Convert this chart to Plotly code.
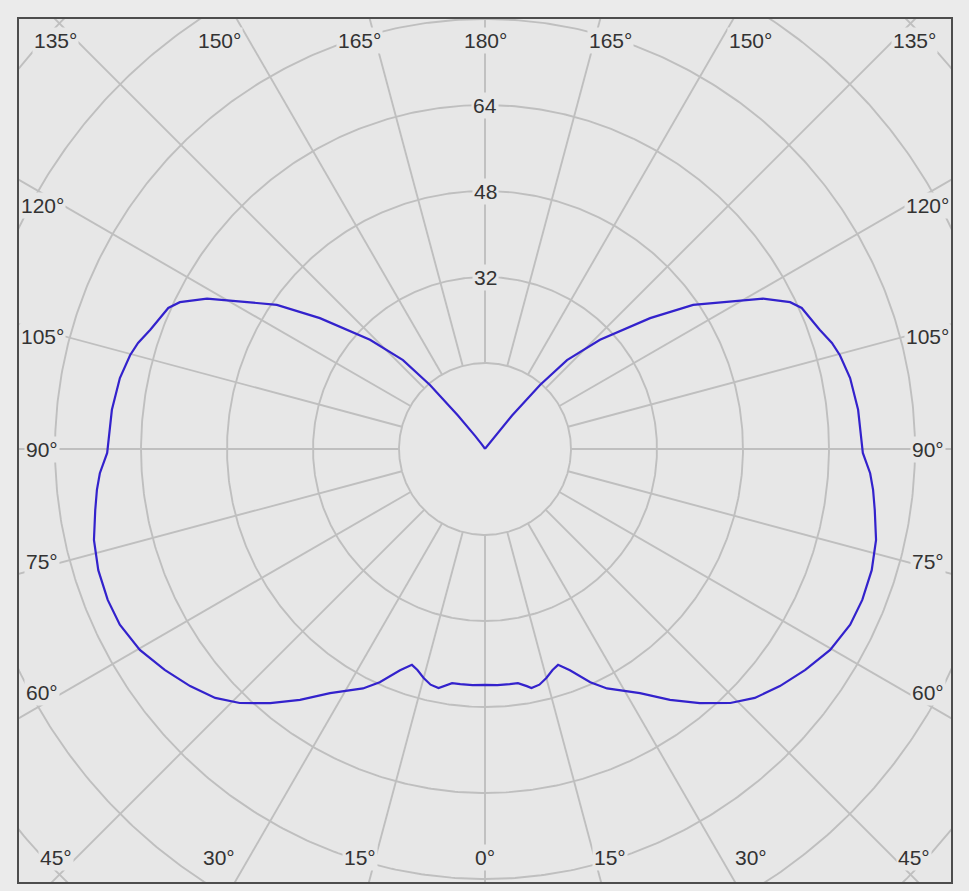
import numpy as np
import plotly.graph_objects as go

# ---- data ----
# gamma angle (deg, 0 = straight down) and luminous intensity (cd/klm)
gamma_deg = [0, 3, 6, 8, 10, 11, 13, 15, 17, 18.7, 21, 24.3, 27, 30, 32.4, 36.4, 40.2, 44,
             47.3, 51.2, 55.4, 59.8, 64.3, 68.2, 72.6, 76.9, 81.1, 84, 86.4, 89.4, 96, 101,
             104.8, 107, 109.6, 114, 115.7, 118.4, 121.7, 124.7, 128.4, 133.5, 137.3, 139.3,
             141, 143, 146, 150, 160, 170, 180]
intensity = [43.9, 44.0, 44.0, 44.0, 44.8, 45.3, 45.0, 44.1, 43.0, 42.4, 44.1, 47.6, 50.0, 52.0,
             53.8, 58.0, 61.9, 65.7, 68.3, 70.4, 72.4, 74.3, 75.4, 75.6, 75.4, 74.7, 73.4, 72.6,
             71.8, 70.3, 69.8, 69.2, 68.3, 67.5, 66.1, 64.5, 63.0, 58.8, 52.0, 47.1, 39.2, 29.5,
             22.5, 15.7, 8.0, 3.0, 1.0, 0.3, 0.1, 0.0, 0.0]

grid_radii = [16, 32, 48, 64, 80, 96, 112, 128]
spoke_angles = list(range(0, 360, 15))
radial_labels = [32, 48, 64]
angle_labels = [0, 15, 30, 45, 60, 75, 90, 105, 120, 135, 150, 165, 180]

# ---- styling ----
PAPER_BG = "#ebebeb"
PLOT_BG = "#e7e7e7"
GRID = "#bfbfbf"
CURVE = "#3322cc"
TEXT = "#333333"
FONT = "Liberation Sans"


def to_xy(phi_deg, r, side):
    p = np.radians(np.asarray(phi_deg, dtype=float))
    r = np.asarray(r, dtype=float)
    return side * r * np.sin(p), -r * np.cos(p)


fig = go.Figure()

# grid circles
t = np.linspace(0, 360, 721)
for rr in grid_radii:
    x, y = to_xy(t, np.full_like(t, rr), 1)
    fig.add_trace(go.Scatter(x=x, y=y, mode="lines", line=dict(color=GRID, width=1.9),
                             hoverinfo="skip", showlegend=False))

# spokes
for a in spoke_angles:
    x, y = to_xy([a, a], [grid_radii[0], 140], 1)
    fig.add_trace(go.Scatter(x=x, y=y, mode="lines", line=dict(color=GRID, width=1.9),
                             hoverinfo="skip", showlegend=False))

# intensity curve: left half (180 -> 0) then right half (0 -> 180)
xl, yl = to_xy(gamma_deg[::-1], intensity[::-1], -1)
xr, yr = to_xy(gamma_deg, intensity, 1)
fig.add_trace(go.Scatter(x=np.concatenate([xl, xr]), y=np.concatenate([yl, yr]),
                         mode="lines", line=dict(color=CURVE, width=2.2),
                         showlegend=False))

# ---- annotations ----
annotations = []
for rv in radial_labels:
    annotations.append(dict(x=0, y=rv, text=str(rv), showarrow=False,
                            xanchor="center", yanchor="middle",
                            font=dict(family=FONT, size=21, color=TEXT),
                            bgcolor=PLOT_BG, borderpad=1))

W = 443 / 5.375   # half width of label frame (data units)
H = 409 / 5.375   # half height of label frame
for a in angle_labels:
    v = min(a, 180 - a)  # angle away from the vertical axis
    shift = np.interp(v, [0, 15, 30, 45, 60, 75, 90], [0, 2.0, 3.0, 1.4, 1.2, 0.7, 0])
    ap = a + shift if a <= 90 else a - shift
    p = np.radians(ap)
    dx, dy = np.sin(p), -np.cos(p)
    s = min(W / abs(dx) if abs(dx) > 1e-9 else 1e9, H / abs(dy) if abs(dy) > 1e-9 else 1e9)
    sides = [1] if a in (0, 180) else [-1, 1]
    for sd in sides:
        annotations.append(dict(x=sd * s * dx, y=s * dy, text=f"{a}°", showarrow=False,
                                xanchor="center", yanchor="middle",
                                font=dict(family=FONT, size=21, color=TEXT),
                                bgcolor=PLOT_BG, borderpad=1))

fig.update_layout(
    width=969, height=891,
    margin=dict(l=19, r=18, t=19, b=9),
    paper_bgcolor=PAPER_BG, plot_bgcolor=PLOT_BG,
    annotations=annotations,
    xaxis=dict(range=[-86.70, 86.70], showgrid=False, zeroline=False, showticklabels=False,
               ticks="", showline=True, mirror=True, linecolor="#4d4d4d", linewidth=2,
               fixedrange=True),
    yaxis=dict(range=[-80.56, 80.0], showgrid=False, zeroline=False, showticklabels=False,
               ticks="", showline=True, mirror=True, linecolor="#4d4d4d", linewidth=2,
               fixedrange=True),
)

fig.write_html(
    "out.html",
    config={"displayModeBar": False},
    post_script=("document.body.style.margin='0';document.body.style.padding='0';"
                 "document.body.style.overflow='hidden';"
                 "document.body.style.background='" + PAPER_BG + "';"),
)
